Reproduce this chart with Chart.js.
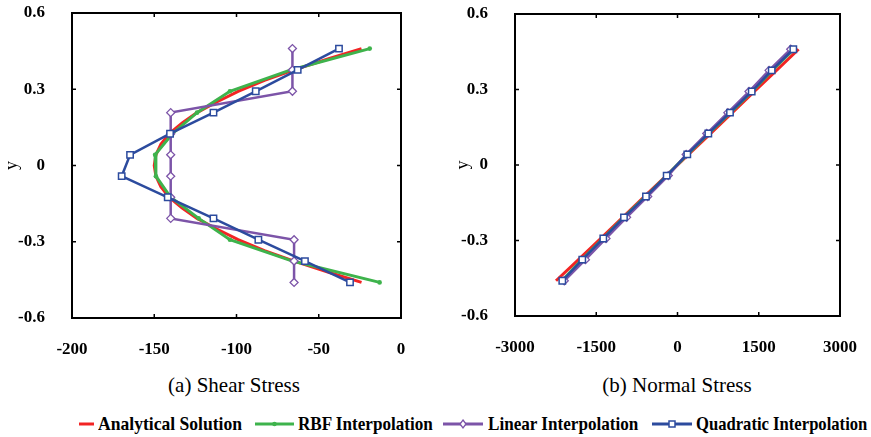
<!DOCTYPE html>
<html><head><meta charset="utf-8">
<script src="https://cdn.jsdelivr.net/npm/chart.js@4"></script>
<style>
html,body{margin:0;padding:0;background:#fff;}
body{width:871px;height:437px;position:relative;overflow:hidden;font-family:"Liberation Serif","Times New Roman",serif;color:#000;}
#c1{position:absolute;left:0;top:0;}
#c2{position:absolute;left:440px;top:0;}
.cap{position:absolute;top:372px;font-size:21px;line-height:26px;white-space:nowrap;transform:translateX(-50%);}
.lt{position:absolute;top:412px;font-weight:bold;font-size:19px;line-height:24px;white-space:nowrap;transform-origin:left center;}
#legsvg{position:absolute;left:0;top:412px;}
</style></head>
<body>
<canvas id="c1" width="430" height="365"></canvas>
<canvas id="c2" width="431" height="365"></canvas>
<div class="cap" style="left:234px">(a) Shear Stress</div>
<div class="cap" style="left:677px">(b) Normal Stress</div>
<svg id="legsvg" width="871" height="24"></svg>
<div id="legend"></div>
<script>
// ---------- data ----------
const Y_NODES = [0.46, 0.376, 0.292, 0.208, 0.125, 0.042, -0.042, -0.125, -0.208, -0.292, -0.376, -0.46];

const SHEAR_ANALYTICAL_Y = [0.46, 0.42, 0.376, 0.335, 0.292, 0.25, 0.208, 0.167, 0.125, 0.083, 0.042, 0,
                            -0.042, -0.083, -0.125, -0.167, -0.208, -0.25, -0.292, -0.335, -0.376, -0.42, -0.46];
const SHEAR_ANALYTICAL = [-24, -44, -65, -83, -99, -112, -124, -133, -141, -146, -149, -150,
                          -149, -146, -141, -133, -124, -112, -99, -83, -65, -44, -24];
const SHEAR_RBF       = [-19, -67, -104, -124, -139, -149.5, -149, -140, -123, -104, -66, -13];
const SHEAR_LINEAR    = [-66, -66, -66, -140, -140, -140, -140, -140, -140, -65, -65, -65];
const SHEAR_QUADRATIC = [-37.7, -62.8, -88.3, -114, -140.4, -164.7, -169.8, -141.8, -114, -86.7, -58.4, -31];

const NORMAL_ANALYTICAL = [2236, 1827, 1419, 1011, 608, 204, -204, -608, -1011, -1419, -1827, -2243];
const NORMAL_RBF        = [2148, 1748, 1378, 977, 575, 185, -198, -586, -992, -1376, -1763, -2135];
const NORMAL_LINEAR     = [2090, 1690, 1320, 930, 540, 160, -170, -550, -940, -1320, -1700, -2090];
const NORMAL_QUADRATIC  = [2138, 1739, 1370, 969, 569, 181, -200, -582, -988, -1370, -1758, -2127];

const SHEAR_X_TICKS  = [-200, -150, -100, -50, 0];
const NORMAL_X_TICKS = [-3000, -1500, 0, 1500, 3000];
const Y_TICKS = [-0.6, -0.3, 0, 0.3, 0.6];

const SERIES_NAMES = ['Analytical Solution', 'RBF Interpolation', 'Linear Interpolation', 'Quadratic Interpolation'];
// ---------------------------

const RED = '#F22424', GREEN = '#3EB34C', PURPLE = '#7C54A8', BLUE = '#2C4B9E';
const FONT = '"Liberation Serif", "Times New Roman", serif';

function pts(xs, ys) { return xs.map((x, i) => ({x: x, y: ys[i]})); }

const framePlugin = {
  id: 'frame',
  afterDatasetsDraw(chart) {
    const {ctx, chartArea: a, scales} = chart;
    const x = scales.x, y = scales.y;
    ctx.save();
    ctx.strokeStyle = '#000';
    ctx.lineWidth = 2;
    ctx.strokeRect(a.left, a.top, a.right - a.left, a.bottom - a.top);
    ctx.lineWidth = 1.5;
    const L = 4;
    ctx.beginPath();
    x.ticks.forEach(t => {
      const p = x.getPixelForValue(t.value);
      if (p <= a.left + 1 || p >= a.right - 1) return;
      ctx.moveTo(p, a.bottom); ctx.lineTo(p, a.bottom - L);
      ctx.moveTo(p, a.top); ctx.lineTo(p, a.top + L);
    });
    y.ticks.forEach(t => {
      const p = y.getPixelForValue(t.value);
      if (p <= a.top + 1 || p >= a.bottom - 1) return;
      ctx.moveTo(a.left, p); ctx.lineTo(a.left + L, p);
      ctx.moveTo(a.right, p); ctx.lineTo(a.right - L, p);
    });
    ctx.stroke();
    ctx.restore();
  }
};

function datasets(an, anY, rbf, lin, quad) {
  return [
    {label: SERIES_NAMES[3], data: pts(quad, Y_NODES), borderColor: BLUE, borderWidth: 2.5,
     pointStyle: 'rect', pointRadius: 4.5, pointBackgroundColor: '#fff', pointBorderColor: BLUE, pointBorderWidth: 1.5},
    {label: SERIES_NAMES[2], data: pts(lin, Y_NODES), borderColor: PURPLE, borderWidth: 2.5,
     pointStyle: 'rectRot', pointRadius: 4, pointBackgroundColor: '#fff', pointBorderColor: PURPLE, pointBorderWidth: 1.3},
    {label: SERIES_NAMES[1], data: pts(rbf, Y_NODES), borderColor: GREEN, borderWidth: 3,
     pointStyle: 'circle', pointRadius: 2.3, pointBackgroundColor: GREEN, pointBorderColor: GREEN, pointBorderWidth: 0},
    {label: SERIES_NAMES[0], data: pts(an, anY), borderColor: RED, borderWidth: 3, pointRadius: 0}
  ];
}

function makeChart(id, ds, xTicks, xMin, xMax, pad, yWidth, xHeight, titlePad) {
  return new Chart(document.getElementById(id), {
    type: 'scatter',
    data: {datasets: ds.map(d => Object.assign({showLine: true, tension: 0, fill: false}, d))},
    options: {
      responsive: false, animation: false, events: [],
      layout: {padding: pad, autoPadding: false},
      plugins: {legend: {display: false}, tooltip: {enabled: false}},
      scales: {
        x: {type: 'linear', min: xMin, max: xMax,
            grid: {display: false}, border: {display: false},
            afterBuildTicks: s => { s.ticks = xTicks.map(v => ({value: v})); },
            afterFit: s => { s.height = xHeight; s.paddingLeft = 0; s.paddingRight = 0; },
            ticks: {color: '#000', padding: 13, maxRotation: 0, autoSkip: false,
                    font: {family: FONT, size: 17, weight: 'bold'}, callback: v => String(v)}},
        y: {type: 'linear', min: -0.6, max: 0.6,
            grid: {display: false}, border: {display: false},
            afterBuildTicks: s => { s.ticks = Y_TICKS.map(v => ({value: v})); },
            afterFit: s => { s.width = yWidth; s.paddingTop = 0; s.paddingBottom = 0; },
            title: {display: true, text: 'y', color: '#000', font: {family: FONT, size: 18}, padding: {top: titlePad, bottom: 0}},
            ticks: {color: '#000', padding: 19, autoSkip: false,
                    font: {family: FONT, size: 17, weight: 'bold'}, callback: v => String(v)}}
      }
    },
    plugins: [framePlugin]
  });
}

function build() {
  makeChart('c1', datasets(SHEAR_ANALYTICAL, SHEAR_ANALYTICAL_Y, SHEAR_RBF, SHEAR_LINEAR, SHEAR_QUADRATIC),
            SHEAR_X_TICKS, -200, 0, {left: 0, top: 13, right: 29, bottom: 0}, 72, 47, 1);
  makeChart('c2', datasets(NORMAL_ANALYTICAL, Y_NODES, NORMAL_RBF, NORMAL_LINEAR, NORMAL_QUADRATIC),
            NORMAL_X_TICKS, -3000, 3000, {left: 0, top: 14, right: 31, bottom: 0}, 75, 49, 12);
}

// legend
const LEG = [
  {name: SERIES_NAMES[0], color: RED,    x1: 79,  x2: 94,  tx: 98,  sx: 0.925, mark: 'none'},
  {name: SERIES_NAMES[1], color: GREEN,  x1: 255, x2: 294, tx: 298, sx: 0.9,   mark: 'circle'},
  {name: SERIES_NAMES[2], color: PURPLE, x1: 443, x2: 483, tx: 488, sx: 0.9,   mark: 'diamond'},
  {name: SERIES_NAMES[3], color: BLUE,   x1: 652, x2: 692, tx: 696, sx: 0.875, mark: 'square'}
];
const svg = document.getElementById('legsvg');
const NS = 'http://www.w3.org/2000/svg';
let html = '';
LEG.forEach(it => {
  const yc = 12;
  const ln = document.createElementNS(NS, 'line');
  ln.setAttribute('x1', it.x1); ln.setAttribute('x2', it.x2);
  ln.setAttribute('y1', yc); ln.setAttribute('y2', yc);
  ln.setAttribute('stroke', it.color); ln.setAttribute('stroke-width', 3);
  svg.appendChild(ln);
  const cx = (it.x1 + it.x2) / 2;
  let m = null;
  if (it.mark === 'circle') {
    m = document.createElementNS(NS, 'circle');
    m.setAttribute('cx', cx); m.setAttribute('cy', yc); m.setAttribute('r', 2.3);
    m.setAttribute('fill', it.color);
  } else if (it.mark === 'diamond') {
    m = document.createElementNS(NS, 'polygon');
    m.setAttribute('points', `${cx},${yc-4} ${cx+3},${yc} ${cx},${yc+4} ${cx-3},${yc}`);
    m.setAttribute('fill', '#fff'); m.setAttribute('stroke', it.color); m.setAttribute('stroke-width', 1.3);
  } else if (it.mark === 'square') {
    m = document.createElementNS(NS, 'rect');
    m.setAttribute('x', cx - 3); m.setAttribute('y', yc - 3); m.setAttribute('width', 6); m.setAttribute('height', 6);
    m.setAttribute('fill', '#fff'); m.setAttribute('stroke', it.color); m.setAttribute('stroke-width', 1.5);
  }
  if (m) svg.appendChild(m);
  html += `<div class="lt" style="left:${it.tx}px;transform:scaleX(${it.sx})">${it.name}</div>`;
});
document.getElementById('legend').innerHTML = html;

if (document.fonts && document.fonts.load) {
  Promise.all([
    document.fonts.load('bold 17px "Liberation Serif"'),
    document.fonts.load('18px "Liberation Serif"')
  ]).then(build, build);
} else { build(); }
</script>
</body></html>
